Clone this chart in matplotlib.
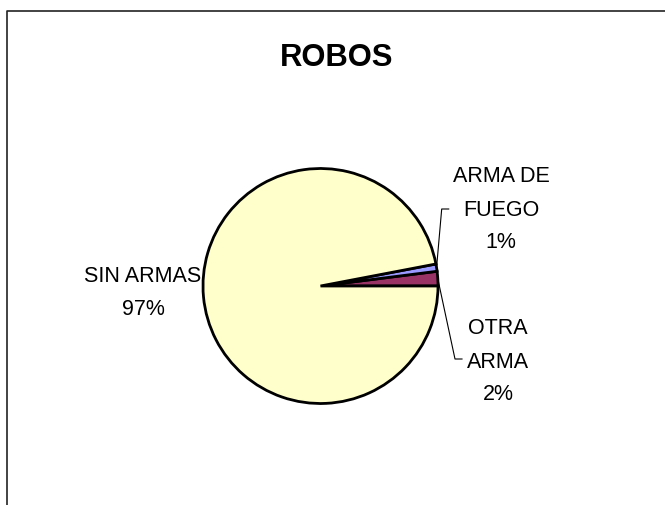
import numpy as np
import matplotlib
matplotlib.use("Agg")
from matplotlib import pyplot as plt

plt.rcParams['font.family'] = ['Liberation Sans', 'DejaVu Sans']

# datos del grafico (orden antihorario desde las 3 en punto)
categorias = ["OTRA\nARMA", "ARMA DE\nFUEGO", "SIN ARMAS"]
valores = [2, 1, 97]
colores = ["#993366", "#9999FF", "#FFFFCC"]
titulo = "ROBOS"

W, H = 665, 506
fig = plt.figure(figsize=(W / 100, H / 100), dpi=100)
ax = fig.add_axes([0, 0, 1, 1])

# todo en pixeles, y hacia arriba
cx, cy, r = 320.5, H - 287, 117.5
wedges, _ = ax.pie(valores, colors=colores, startangle=0, counterclock=True,
                   center=(cx, cy), radius=r,
                   wedgeprops=dict(edgecolor="black", linewidth=2.0))
ax.set_xlim(0, W)
ax.set_ylim(0, H)
ax.set_aspect("auto")
ax.axis("off")

# etiquetas con porcentaje
total = sum(valores)
pos_etiquetas = [(498, H - 362), (501, H - 210), (143, H - 293)]
for cat, v, (tx, ty) in zip(categorias, valores, pos_etiquetas):
    ax.text(tx, ty, "%s\n%d%%" % (cat, round(100 * v / total)),
            ha="center", va="center", fontsize=15.5, linespacing=1.75)

# lineas guia de las porciones pequenas
ang = [(w.theta1 + w.theta2) / 2 for w in wedges]
for i, (mx, my) in [(0, (455, H - 360)), (1, (441.7, H - 210))]:
    a = np.deg2rad(ang[i])
    px, py = cx + r * np.cos(a), cy + r * np.sin(a)
    ax.plot([px, mx, mx + 7], [py, my, my], color="black", linewidth=0.8)

ax.text(337, H - 58, titulo, ha="center", va="center",
        fontsize=22.3, fontweight="bold")

# marco (solo izquierda y arriba visibles)
ax.plot([7, 7, W], [0, H - 11.5, H - 11.5], color="#222222", linewidth=1.2)

fig.savefig("out.png", dpi=100)
